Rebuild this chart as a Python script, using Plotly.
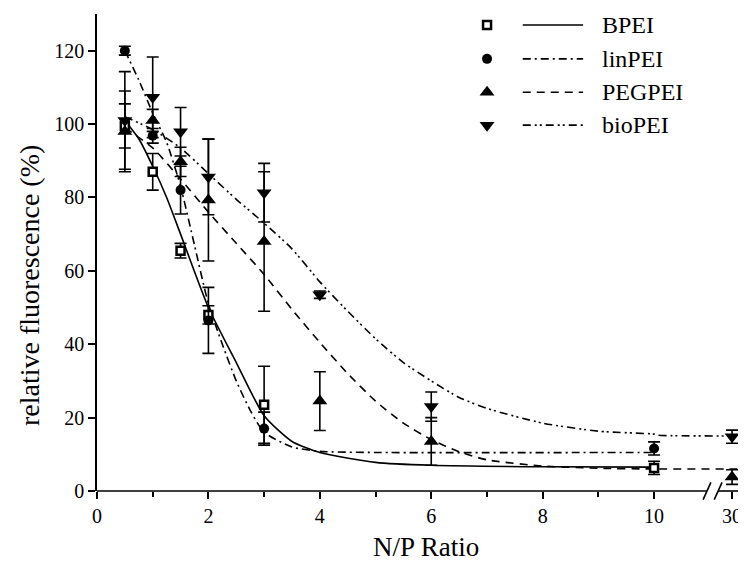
import plotly.graph_objects as go

# ---------------- data ----------------
np_ratio_a = [0.5, 1, 1.5, 2, 3, 10]              # BPEI / linPEI measured N/P ratios
bpei = [99.5, 87, 65.5, 48, 23.5, 6.3]
bpei_err = [6, 5, 2, 2.5, 10.5, 1.8]
linpei = [120, 96.8, 82, 46.5, 17, 11.6]
linpei_err = [1.2, 2, 6.5, 9, 4.5, 1.8]

np_ratio_b = [0.5, 1, 1.5, 2, 3, 4, 6, 30]        # PEGPEI / bioPEI measured N/P ratios
pegpei = [98, 101, 89.7, 79.3, 68, 24.5, 13.5, 3.8]
pegpei_err = [11, 3, 4, 16.6, 19, 8, 6.5, 2]
biopei = [101, 107.3, 97.9, 85.6, 81.3, 53.5, 23, 14.8]
biopei_err = [13.3, 11, 6.6, 10.3, 8, 1, 4, 1.8]

# fitted curves
bpei_fit_x = [0.5, 0.75, 1, 1.25, 1.5, 2, 2.5, 3, 3.5, 4, 5, 6, 8, 10]
bpei_fit_y = [101, 96, 88.5, 80, 70, 50, 35, 20.5, 13.5, 10.5, 7.8, 7, 6.6, 6.5]
linpei_fit_x = [0.5, 0.75, 1, 1.25, 1.5, 1.75, 2, 2.25, 2.5, 2.75, 3, 3.5, 4, 5, 10]
linpei_fit_y = [120, 112, 103, 95, 83, 67, 51, 40, 30, 22, 16, 12, 10.8, 10.5, 10.5]
pegpei_fit_x = [0.5, 1, 1.5, 2, 2.5, 3, 3.5, 4, 4.5, 5, 5.5, 6, 6.5, 7, 8, 9, 10, 30, 32]
pegpei_fit_y = [99, 93.5, 85, 76, 67.5, 59, 49.5, 40.5, 32, 24.5, 18.5, 14, 10.7, 8.5, 6.8, 6.2, 6, 6, 6]
biopei_fit_x = [0.5, 1, 1.5, 2, 2.5, 3, 3.5, 4, 4.5, 5, 5.5, 6, 6.5, 7, 8, 9, 10, 11, 30, 32]
biopei_fit_y = [102, 98.5, 93.5, 86.5, 79.5, 73, 66, 57, 49, 41.5, 35, 30, 25.5, 22.5, 18.5, 16.3, 15.5, 15.2, 15, 15]

x_tick_vals = [0, 2, 4, 6, 8, 10, 30]
x_tick_text = ["0", "2", "4", "6", "8", "10", "30"]
y_tick_vals = [0, 20, 40, 60, 80, 100, 120]

names = ["BPEI", "linPEI", "PEGPEI", "bioPEI"]
symbols = ["square", "circle", "triangle-up", "triangle-down"]
dashes = ["solid", "8px,4px,2px,4px", "8px,6px", "8px,4px,2px,3px,2px,4px"]

# ---------------- broken axis mapping ----------------
BREAK_LO, BREAK_HI = 10.0, 30.0
POS_HI = 11.4


def to_axis(x):
    if x <= BREAK_LO:
        return x
    if x < BREAK_HI:
        return BREAK_LO + (x - BREAK_LO) / (BREAK_HI - BREAK_LO) * (POS_HI - BREAK_LO)
    return POS_HI + (x - BREAK_HI) * 0.13


FONT = "Liberation Serif, Times New Roman, serif"
fig = go.Figure()

fits = [(bpei_fit_x, bpei_fit_y), (linpei_fit_x, linpei_fit_y),
        (pegpei_fit_x, pegpei_fit_y), (biopei_fit_x, biopei_fit_y)]
for (fx, fy), dash in zip(fits, dashes):
    fig.add_trace(go.Scatter(
        x=[to_axis(v) for v in fx], y=fy, mode="lines",
        line=dict(color="black", width=1.6, dash=dash, shape="spline", smoothing=0.6),
        showlegend=False, hoverinfo="skip"))


def marker_style(sym, sz):
    if sym == "square":
        return dict(symbol=sym, size=sz, color="white", line=dict(color="black", width=2.5))
    return dict(symbol=sym, size=sz, color="black", line=dict(width=0))


series = [(np_ratio_a, bpei, bpei_err), (np_ratio_a, linpei, linpei_err),
          (np_ratio_b, pegpei, pegpei_err), (np_ratio_b, biopei, biopei_err)]
sizes = [8, 10, 13, 13]
for (sx, sy, se), sym, sz, nm in zip(series, symbols, sizes, names):
    fig.add_trace(go.Scatter(
        x=[to_axis(v) for v in sx], y=sy, mode="markers", name=nm,
        marker=marker_style(sym, sz),
        error_y=dict(type="data", array=se, visible=True, color="black",
                     thickness=1.6, width=6),
        showlegend=False))

# ---------------- manual legend on overlay axes ----------------
leg_rows = [0.977, 0.906, 0.836, 0.767]
leg_marker_x = 0.601
leg_line_x = [0.656, 0.749]
leg_text_x = 0.775
for i, (nm, sym, sz, dash) in enumerate(zip(names, symbols, sizes, dashes)):
    yy = leg_rows[i]
    fig.add_trace(go.Scatter(x=[leg_marker_x], y=[yy], xaxis="x2", yaxis="y2",
                             mode="markers", marker=marker_style(sym, sz),
                             showlegend=False, hoverinfo="skip"))
    fig.add_trace(go.Scatter(x=leg_line_x, y=[yy, yy], xaxis="x2", yaxis="y2",
                             mode="lines", line=dict(color="black", width=1.6, dash=dash),
                             showlegend=False, hoverinfo="skip"))
    fig.add_annotation(x=leg_text_x, y=yy, xref="x2", yref="y2", text=nm,
                       showarrow=False, xanchor="left", yanchor="middle",
                       font=dict(family=FONT, size=24, color="black"))

# ---------------- axis break decoration ----------------
shapes = [
    dict(type="line", xref="x", yref="paper", x0=0, x1=10.95, y0=0, y1=0,
         line=dict(color="black", width=1.6), layer="above"),
    dict(type="line", xref="x", yref="paper", x0=11.15, x1=11.7, y0=0, y1=0,
         line=dict(color="black", width=1.6), layer="above"),
    dict(type="line", xref="x", yref="paper", x0=10.88, x1=11.02, y0=-0.018, y1=0.018,
         line=dict(color="black", width=1.6), layer="above"),
    dict(type="line", xref="x", yref="paper", x0=11.08, x1=11.22, y0=-0.018, y1=0.018,
         line=dict(color="black", width=1.6), layer="above"),
]

fig.update_layout(
    width=738, height=557,
    margin=dict(l=89, r=0, t=6, b=74),
    paper_bgcolor="white", plot_bgcolor="white",
    font=dict(family=FONT, size=20, color="black"),
    shapes=shapes,
    xaxis=dict(range=[0, 11.65], showline=False, showgrid=False, zeroline=False,
               tickmode="array", tickvals=[to_axis(v) for v in x_tick_vals],
               ticktext=x_tick_text, ticks="outside", ticklen=7, tickwidth=1.6,
               tickcolor="black",
               minor=dict(tickmode="array", tickvals=[1, 3, 5, 7, 9], ticks="outside",
                          ticklen=5, tickwidth=1.6, tickcolor="black"),
               tickfont=dict(family=FONT, size=20)),
    yaxis=dict(range=[0, 130], showline=True, linecolor="black", linewidth=1.6,
               showgrid=False, zeroline=False, tickvals=y_tick_vals,
               ticks="outside", ticklen=7, tickwidth=1.6, tickcolor="black",
               tickfont=dict(family=FONT, size=20)),
    xaxis2=dict(overlaying="x", range=[0, 1], visible=False, fixedrange=True),
    yaxis2=dict(overlaying="y", range=[0, 1], visible=False, fixedrange=True),
    showlegend=False,
)

fig.add_annotation(x=5.9, y=-0.117, xref="x", yref="paper",
                   text="N/P Ratio", showarrow=False, yanchor="middle",
                   font=dict(family=FONT, size=27, color="black"))
fig.add_annotation(x=-0.103, y=0.43, xref="paper", yref="paper", textangle=-90,
                   text="relative fluorescence (%)", showarrow=False, xanchor="center",
                   font=dict(family=FONT, size=28, color="black"))

fig.write_html("out.html")
